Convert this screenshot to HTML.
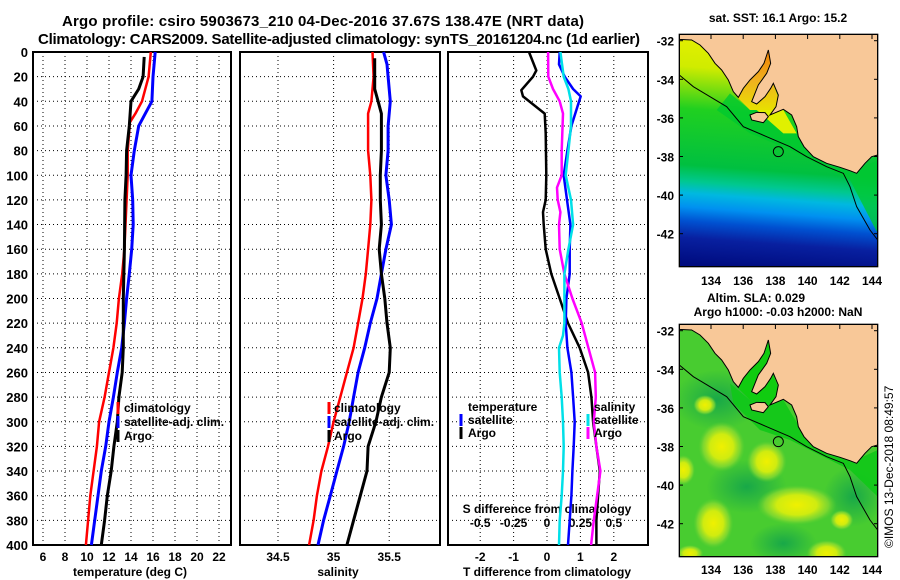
<!DOCTYPE html>
<html><head><meta charset="utf-8"><style>
html,body{margin:0;padding:0;background:#fff;}
svg{display:block;font-family:"Liberation Sans",sans-serif;font-weight:bold;}
</style></head><body>
<svg id="chart" width="900" height="580" viewBox="0 0 900 580">
<defs>
<linearGradient id="sstGrad" gradientUnits="userSpaceOnUse" x1="300" y1="100" x2="250" y2="800">
<stop offset="0" stop-color="#e8f000"/><stop offset="0.16" stop-color="#d0ec00"/><stop offset="0.26" stop-color="#70dc10"/>
<stop offset="0.34" stop-color="#20d020"/><stop offset="0.58" stop-color="#00c040"/><stop offset="0.65" stop-color="#00c890"/>
<stop offset="0.7" stop-color="#00b8e0"/><stop offset="0.76" stop-color="#0090f0"/><stop offset="0.82" stop-color="#0050d0"/>
<stop offset="0.89" stop-color="#0820a0"/><stop offset="1" stop-color="#000c80"/></linearGradient>
<linearGradient id="gulfGrad" x1="0" y1="0" x2="0" y2="1"><stop offset="0" stop-color="#f08000"/><stop offset="0.5" stop-color="#f0b020"/><stop offset="1" stop-color="#e8e000"/></linearGradient>
<radialGradient id="blob"><stop offset="0" stop-color="#f0f000"/><stop offset="0.5" stop-color="#d0ec10"/><stop offset="0.8" stop-color="#90dc30" stop-opacity="0.7"/><stop offset="1" stop-color="#60d030" stop-opacity="0"/></radialGradient>
<radialGradient id="dark"><stop offset="0" stop-color="#18a848"/><stop offset="1" stop-color="#18a848" stop-opacity="0"/></radialGradient>
<clipPath id="mapClip"><rect x="88" y="103" width="595" height="697"/></clipPath>
</defs>
<text x="323" y="26" text-anchor="middle" font-size="15" textLength="522">Argo profile: csiro 5903673_210 04-Dec-2016 37.67S 138.47E (NRT data)</text>
<text x="339" y="44" text-anchor="middle" font-size="15" textLength="602">Climatology: CARS2009. Satellite-adjusted climatology: synTS_20161204.nc (1d earlier)</text>
<g id="panels"></g>
<g id="map1" transform="translate(650,0) scale(0.33333)">
<g clip-path="url(#mapClip)">
<rect x="88" y="103" width="595" height="697" fill="url(#sstGrad)"/>
<polygon points="240,280 300,330 400,330 460,430 520,480 640,500 683,480 683,700 600,540 520,500 420,450 300,400 200,330" fill="#00c830" opacity="0.8"/>
<polygon points="262,292 300,240 342,190 356,150 372,260 400,330 300,330" fill="url(#gulfGrad)"/>
<polygon points="320,330 400,330 440,400 400,400" fill="#e0f000"/>
<polygon class="land" points="88,103 88,118 125,120 150,135 175,160 195,190 215,210 235,240 250,275 265,292 280,265 300,240 325,215 342,190 355,150 362,190 350,220 325,255 315,280 305,305 320,312 345,290 362,265 370,250 385,285 378,320 360,345 400,328 425,345 440,380 445,410 462,440 490,470 530,490 570,502 600,512 620,520 645,490 665,470 683,465 683,103" fill="#f8c898" stroke="#000" stroke-width="3"/>
<polygon points="300,345 320,337 345,338 355,350 340,368 305,360" fill="#f8c898" stroke="#000" stroke-width="3"/>
<polyline points="88,225 130,260 180,290 230,320 280,380 350,410 420,440 470,470 530,500 580,520 600,560 620,620 660,690 683,720" fill="none" stroke="#000" stroke-width="3"/>
<circle cx="385" cy="455" r="15" fill="none" stroke="#000" stroke-width="3"/>
</g>
<rect x="88" y="103" width="595" height="697" fill="none" stroke="#000" stroke-width="4"/>
</g>
<g id="map2" transform="translate(650,290) scale(0.33333)">
<g clip-path="url(#mapClip)">
<rect x="88" y="103" width="595" height="697" fill="#48cc30"/>
<ellipse cx="200" cy="330" rx="130" ry="90" fill="url(#dark)"/>
<ellipse cx="290" cy="590" rx="120" ry="80" fill="url(#dark)"/>
<ellipse cx="400" cy="760" rx="100" ry="60" fill="url(#dark)"/>
<ellipse cx="610" cy="620" rx="90" ry="90" fill="url(#dark)"/>
<ellipse cx="215" cy="470" rx="70" ry="75" fill="url(#blob)"/>
<ellipse cx="350" cy="515" rx="60" ry="62" fill="url(#blob)"/>
<ellipse cx="440" cy="645" rx="120" ry="60" fill="url(#blob)"/>
<ellipse cx="190" cy="700" rx="60" ry="75" fill="url(#blob)"/>
<ellipse cx="165" cy="345" rx="35" ry="30" fill="url(#blob)"/>
<ellipse cx="530" cy="790" rx="60" ry="40" fill="url(#blob)"/>
<ellipse cx="100" cy="540" rx="35" ry="45" fill="url(#blob)"/>
<ellipse cx="575" cy="690" rx="35" ry="30" fill="url(#blob)"/>
<ellipse cx="120" cy="790" rx="40" ry="25" fill="url(#blob)"/>
<polygon points="240,280 300,330 400,330 460,430 520,480 640,500 683,480 683,620 600,540 520,500 420,450 330,420 250,340" fill="#10c818" opacity="0.9"/>
<polygon points="262,292 300,240 342,190 356,150 372,260 400,330 300,330" fill="#10cc10"/>
<polygon points="88,103 88,118 125,120 150,135 175,160 195,190 215,210 235,240 250,275 265,292 280,265 300,240 325,215 342,190 355,150 362,190 350,220 325,255 315,280 305,305 320,312 345,290 362,265 370,250 385,285 378,320 360,345 400,328 425,345 440,380 445,410 462,440 490,470 530,490 570,502 600,512 620,520 645,490 665,470 683,465 683,103" fill="#f8c898" stroke="#000" stroke-width="3"/>
<polygon points="300,345 320,337 345,338 355,350 340,368 305,360" fill="#f8c898" stroke="#000" stroke-width="3"/>
<polyline points="88,225 130,260 180,290 230,320 280,380 350,410 420,440 470,470 530,500 580,520 600,560 620,620 660,690 683,720" fill="none" stroke="#000" stroke-width="3"/>
<circle cx="385" cy="455" r="15" fill="none" stroke="#000" stroke-width="3"/>
</g>
<rect x="88" y="103" width="595" height="697" fill="none" stroke="#000" stroke-width="4"/>
</g>
<text x="778" y="22" text-anchor="middle" font-size="12">sat. SST: 16.1 Argo: 15.2</text>
<text x="756" y="302" text-anchor="middle" font-size="12">Altim. SLA: 0.029</text>
<text x="778" y="316" text-anchor="middle" font-size="12">Argo h1000: -0.03 h2000: NaN</text>
<text transform="translate(893,548) rotate(-90)" font-size="12" font-weight="normal">©IMOS 13-Dec-2018 08:49:57</text>
<g id="mapaxes"></g>
</svg>
<script>
// ---- data ----
const tClimDepth = [0,20,40,50,57,80,100,120,160,180,200,220,240,260,280,300,320,340,360,380,400];
const tClimVal   = [15.8,15.6,15.0,14.4,13.9,13.7,13.7,13.6,13.4,13.2,12.9,12.7,12.4,12.0,11.6,11.1,10.9,10.6,10.3,10.1,9.9];
const tSatDepth  = [0,20,40,50,60,80,100,120,140,160,180,200,220,240,260,280,300,320,340,360,380,400];
const tSatVal    = [16.2,16.0,15.9,15.3,14.7,14.3,14.0,14.15,14.2,14.06,13.85,13.6,13.4,13.15,12.75,12.4,12.0,11.7,11.3,11.0,10.7,10.4];
const tArgoDepth = [4,20,30,40,60,80,100,120,160,200,240,260,280,300,320,340,360,380,400];
const tArgoVal   = [15.2,15.1,14.7,14.0,13.85,13.6,13.55,13.45,13.4,13.3,13.3,13.2,12.9,12.75,12.45,12.2,11.85,11.6,11.3];
const sClimDepth = [0,20,40,50,80,100,120,140,160,180,200,220,240,260,280,300,320,340,360,380,400];
const sClimVal   = [35.35,35.36,35.34,35.31,35.31,35.33,35.34,35.33,35.31,35.29,35.26,35.22,35.18,35.12,35.06,35.0,34.95,34.89,34.85,34.82,34.78];
const sSatDepth  = [0,10,20,40,60,80,100,120,140,160,180,200,220,240,260,280,300,320,340,360,380,400];
const sSatVal    = [35.45,35.48,35.49,35.51,35.49,35.49,35.47,35.50,35.52,35.47,35.43,35.39,35.33,35.28,35.22,35.18,35.14,35.09,35.03,34.97,34.91,34.86];
const sArgoDepth = [5,20,30,40,50,80,100,120,140,160,180,200,220,240,260,280,300,320,340,360,380,400];
const sArgoVal   = [35.37,35.37,35.37,35.40,35.43,35.43,35.42,35.42,35.43,35.41,35.43,35.46,35.48,35.51,35.50,35.43,35.38,35.31,35.30,35.24,35.18,35.12];
const dTArgoDepth = [0,15,20,31,36,50,66,100,120,130,140,160,180,200,220,240,260,280,300,320,340,360,380,400];
const dTArgoVal   = [-0.54,-0.32,-0.42,-0.77,-0.72,-0.07,-0.04,-0.02,-0.04,-0.12,-0.10,-0.04,0.13,0.38,0.63,0.98,1.23,1.33,1.38,1.48,1.58,1.53,1.48,1.48];
const dTSatDepth  = [0,10,20,30,36,40,60,80,100,120,140,160,180,200,220,240,260,280,300,320,340,360,380,400];
const dTSatVal    = [0.38,0.36,0.53,0.78,1.01,0.96,0.73,0.61,0.50,0.60,0.70,0.68,0.68,0.58,0.56,0.61,0.73,0.78,0.83,0.80,0.76,0.73,0.68,0.63];
const dSArgoDepth = [0,20,30,40,50,80,100,110,120,130,140,160,180,200,220,240,260,280,300,320,340,360,380,400];
const dSArgoVal   = [0.008,0.01,0.045,0.095,0.12,0.11,0.11,0.075,0.08,0.10,0.09,0.095,0.13,0.19,0.26,0.31,0.36,0.365,0.35,0.37,0.40,0.375,0.35,0.33];
const dSSatDepth  = [0,20,30,40,60,80,100,120,140,160,180,200,220,230,240,260,280,300,320,340,360,380,400];
const dSSatVal    = [0.10,0.125,0.16,0.18,0.18,0.16,0.14,0.18,0.195,0.16,0.13,0.13,0.13,0.12,0.09,0.095,0.11,0.12,0.125,0.12,0.11,0.095,0.09];
const depthTicks = [0,20,40,60,80,100,120,140,160,180,200,220,240,260,280,300,320,340,360,380,400];
const tempTicks = [6,8,10,12,14,16,18,20,22];
const salTicks = [34.5,35,35.5];
const dTTicks = [-2,-1,0,1,2];
const dSTicks = [-0.5,-0.25,0,0.25,0.5];
const dSTickLabels = ["-0.5","-0.25","0","0.25","0.5"];
const lonTicks = [134,136,138,140,142,144];
const latTicks = [-32,-34,-36,-38,-40,-42];

// ---- scales ----
const yD = d => 52 + d*1.2325;
const xT = t => 43 + (t-6)*11;
const xS = s => 278 + (s-34.5)*111.2;
const xdT = t => 547 + t*33.4;
const xdS = s => 547 + s*4*33.4;
const mapX = lon => 711 + (lon-134)*16.1;
const mapY = lat => 40.7 + (-32-lat)*19.3;

const NS = "http://www.w3.org/2000/svg";
const root = document.getElementById('panels');
function mk(tag, attrs, parent){ const e=document.createElementNS(NS,tag); for(const k in attrs) e.setAttribute(k,attrs[k]); (parent||root).appendChild(e); return e; }
function txt(x,y,s,anchor,size,parent){ const e=mk('text',{x:x,y:y,'text-anchor':anchor,'font-size':size},parent); e.textContent=s; return e; }

const panels = [{x0:33,x1:231,name:'temperature-panel'},{x0:240,x1:440,name:'salinity-panel'},{x0:448,x1:648,name:'difference-panel'}];
const grids = [tempTicks.map(xT), salTicks.map(xS), dTTicks.map(xdT)];
panels.forEach((p,i)=>{
  const g = mk('g',{});
  
  
  grids[i].forEach(x=>{
    const l = mk('line',{x1:x,x2:x,y1:52,y2:545,stroke:'#000','stroke-width':1,'stroke-dasharray':'1,3'},g);
    
    
  });
  depthTicks.forEach(d=>{
    const l = mk('line',{x1:p.x0,x2:p.x1,y1:yD(d),y2:yD(d),stroke:'#000','stroke-width':1,'stroke-dasharray':'1,3'},g);
    
    
  });
  const r = mk('rect',{x:p.x0,y:52,width:p.x1-p.x0,height:493,fill:'none',stroke:'#000','stroke-width':2},g);
  
  
});
depthTicks.forEach(d=>{
  const t = txt(28, yD(d)+5, String(d), 'end', 13);
  
  
});
tempTicks.forEach(v=>{ const t=txt(xT(v),561,String(v),'middle',12);   });
salTicks.forEach(v=>{ const t=txt(xS(v),561,String(v),'middle',12);   });
dTTicks.forEach(v=>{ const t=txt(xdT(v),561,String(v),'middle',12);   });
dSTicks.forEach((v,i)=>{ const t=txt(xdS(v),527,dSTickLabels[i],'middle',12);   });
let at = txt(130,576,'temperature (deg C)','middle',12);  
at = txt(338,576,'salinity','middle',12);  
at = txt(547,576,'T difference from climatology','middle',12);  
at = txt(547,513,'S difference from climatology','middle',12);  

function series(depths, vals, xf, color, w, name){
  const pts = depths.map((d,i)=> xf(vals[i]).toFixed(1)+','+yD(d).toFixed(1)).join(' ');
  const l = mk('polyline',{points:pts,fill:'none',stroke:color,'stroke-width':w,'stroke-linejoin':'round'});
  
  
}
series(tClimDepth,tClimVal,xT,'#ff0000',2.5,'temperature-climatology-line');
series(tSatDepth,tSatVal,xT,'#0000ff',3,'temperature-satellite-line');
series(tArgoDepth,tArgoVal,xT,'#000000',3,'temperature-argo-line');
series(sClimDepth,sClimVal,xS,'#ff0000',2.5,'salinity-climatology-line');
series(sSatDepth,sSatVal,xS,'#0000ff',3,'salinity-satellite-line');
series(sArgoDepth,sArgoVal,xS,'#000000',3,'salinity-argo-line');
series(dTArgoDepth,dTArgoVal,xdT,'#000000',2.5,'t-diff-argo-line');
series(dTSatDepth,dTSatVal,xdT,'#0000ff',2.5,'t-diff-satellite-line');
series(dSArgoDepth,dSArgoVal,xdS,'#ff00ff',2.5,'s-diff-argo-line');
series(dSSatDepth,dSSatVal,xdS,'#00e0e8',2.5,'s-diff-satellite-line');

function legendEntry(mx, tx, y, color, label, name){
  const g = mk('g',{});
  
  
  if(color) mk('line',{x1:mx,x2:mx,y1:y-10,y2:y+2,stroke:color,'stroke-width':3},g);
  txt(tx,y,label,'start',12,g);
}
legendEntry(118,124,412,'#ff0000','climatology','legend-entry-climatology');
legendEntry(118,124,426,'#0000ff','satellite-adj. clim.','legend-entry-satellite-temp');
legendEntry(118,124,440,'#000000','Argo','legend-entry-argo-temp');
legendEntry(329,334,412,'#ff0000','climatology','legend-entry-climatology-sal');
legendEntry(329,334,426,'#0000ff','satellite-adj. clim.','legend-entry-satellite-sal');
legendEntry(329,334,440,'#000000','Argo','legend-entry-argo-sal');
legendEntry(0,468,411,null,'temperature','legend-title-temperature');
legendEntry(461,468,424,'#0000ff','satellite','legend-entry-t-satellite');
legendEntry(461,468,437,'#000000','Argo','legend-entry-t-argo');
legendEntry(0,594,411,null,'salinity','legend-title-salinity');
legendEntry(588,594,424,'#00e0e8','satellite','legend-entry-s-satellite');
legendEntry(588,594,437,'#ff00ff','Argo','legend-entry-s-argo');

// map axes
const ma = document.getElementById('mapaxes');
[0,290].forEach((off,mi)=>{
  latTicks.forEach(lat=>{
    const y = mapY(lat)+off;
    const t = txt(674,y+5,String(lat),'end',12,ma);
    
    
    mk('line',{x1:679,x2:683,y1:y,y2:y,stroke:'#000'},ma);
    mk('line',{x1:874,x2:878,y1:y,y2:y,stroke:'#000'},ma);
  });
  lonTicks.forEach(lon=>{
    const x = mapX(lon);
    const t = txt(x,(mi?574:285),String(lon),'middle',12,ma);
    
    
    mk('line',{x1:x,x2:x,y1:(mi?325:35),y2:(mi?329:39),stroke:'#000'},ma);
  });
});
</script>
</body></html>
